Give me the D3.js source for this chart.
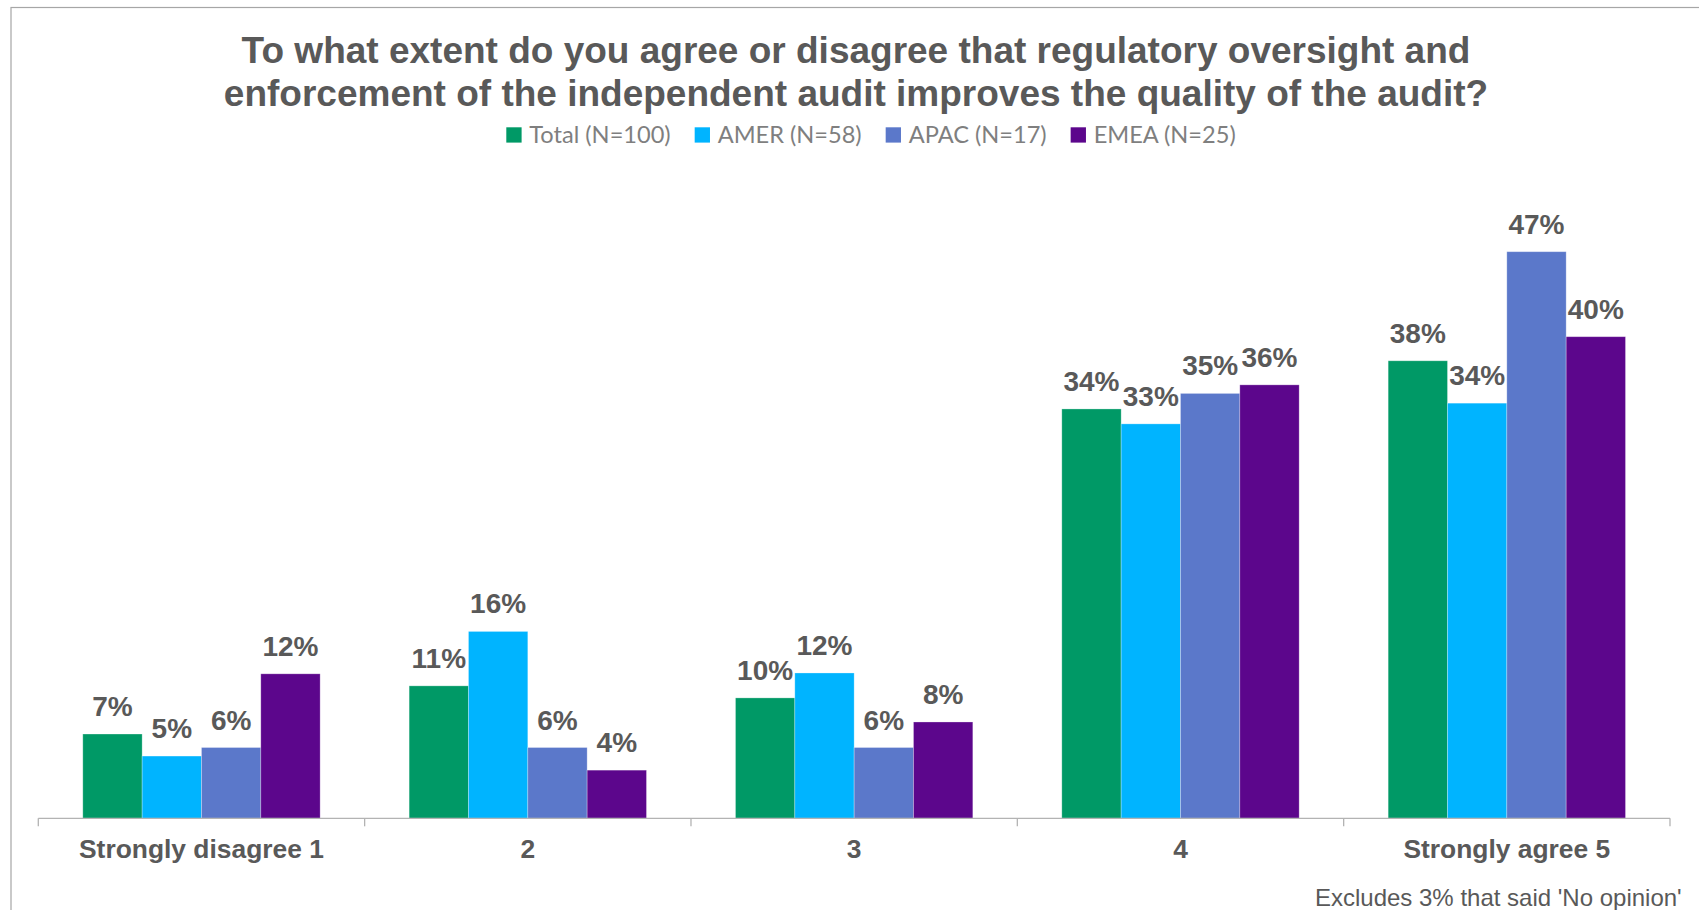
<!DOCTYPE html>
<html>
<head>
<meta charset="utf-8">
<script src="https://cdn.jsdelivr.net/npm/d3@7"></script>
<style>
  html, body { margin: 0; padding: 0; background: #ffffff; }
  svg { display: block; }
</style>
</head>
<body>
<svg id="chart" width="1699" height="910"></svg>
<script>
// ---------- data ----------
const categories = ["Strongly disagree 1", "2", "3", "4", "Strongly agree 5"];
const seriesNames = ["Total (N=100)", "AMER (N=58)", "APAC (N=17)", "EMEA (N=25)"];
const totalValues = [7, 11, 10, 34, 38];
const amerValues  = [5.17, 15.52, 12.07, 32.76, 34.48];
const apacValues  = [5.88, 5.88, 5.88, 35.29, 47.06];
const emeaValues  = [12, 4, 8, 36, 40];
const seriesColors = ["#009966", "#00B4FF", "#5B78CA", "#5C068C"];
const titleLines = [
  "To what extent do you agree or disagree that regulatory oversight and",
  "enforcement of the independent audit improves the quality of the audit?"
];
const footnote = "Excludes 3% that said 'No opinion'";

const seriesValues = [totalValues, amerValues, apacValues, emeaValues];

// ---------- layout ----------
const W = 1699, H = 910;
const axisY = 818.3;
const plotLeft = 38.3, plotRight = 1670;
const svg = d3.select("#chart");
const textGray = "#595959";

// frame
svg.append("rect")
  .attr("x", 11).attr("y", 7.5)
  .attr("width", W + 20).attr("height", H + 20)
  .attr("fill", "#ffffff")
  .attr("stroke", "#a6a6a6").attr("stroke-width", 1.2);

// title
svg.append("g").selectAll("text")
  .data(titleLines)
  .join("text")
  .attr("x", 856)
  .attr("y", (d, i) => 63.3 + i * 42.7)
  .attr("text-anchor", "middle")
  .attr("font-family", "'Liberation Sans', Arial, sans-serif")
  .attr("font-weight", "bold")
  .attr("font-size", 37)
  .attr("fill", textGray)
  .text(d => d);

// scales
const x0 = d3.scaleBand().domain(categories).range([plotLeft, plotRight]).paddingInner(0).paddingOuter(0);
const x1 = d3.scaleBand().domain(seriesNames).range([0, x0.bandwidth()]).paddingInner(0).paddingOuter(0.75);
const y = d3.scaleLinear().domain([0, 50]).range([axisY, axisY - 50 * 12.04]);

// bars
const rows = [];
categories.forEach((c, ci) => {
  seriesNames.forEach((s, si) => {
    rows.push({ cat: c, series: s, si, value: seriesValues[si][ci] });
  });
});

const barsG = svg.append("g");
barsG.selectAll("rect")
  .data(rows)
  .join("rect")
  .attr("x", d => x0(d.cat) + x1(d.series))
  .attr("y", d => y(d.value))
  .attr("width", x1.bandwidth())
  .attr("height", d => y(0) - y(d.value))
  .attr("fill", d => seriesColors[d.si])
  .attr("stroke", "#ffffff")
  .attr("stroke-opacity", 0.35)
  .attr("stroke-width", 0.8);

// value labels
svg.append("g").selectAll("text")
  .data(rows)
  .join("text")
  .attr("x", d => x0(d.cat) + x1(d.series) + x1.bandwidth() / 2)
  .attr("y", d => y(d.value) - 18)
  .attr("text-anchor", "middle")
  .attr("font-family", "'Liberation Sans', Arial, sans-serif")
  .attr("font-weight", "bold")
  .attr("font-size", 28)
  .attr("fill", textGray)
  .text(d => d3.format(".0f")(d.value) + "%");

// x axis
const axisG = svg.append("g");
axisG.append("line")
  .attr("x1", x0.range()[0]).attr("x2", x0.range()[1])
  .attr("y1", axisY).attr("y2", axisY)
  .attr("stroke", "#b3b3b3").attr("stroke-width", 1.3);
const tickPositions = categories.map(c => x0(c)).concat([x0.range()[1]]);
axisG.selectAll("line.tick")
  .data(tickPositions)
  .join("line")
  .attr("class", "tick")
  .attr("x1", d => d).attr("x2", d => d)
  .attr("y1", axisY).attr("y2", axisY + 8)
  .attr("stroke", "#b3b3b3").attr("stroke-width", 1.3);
axisG.selectAll("text")
  .data(categories)
  .join("text")
  .attr("x", d => x0(d) + x0.bandwidth() / 2)
  .attr("y", 858)
  .attr("text-anchor", "middle")
  .attr("font-family", "'Liberation Sans', Arial, sans-serif")
  .attr("font-weight", "bold")
  .attr("font-size", 26.4)
  .attr("fill", textGray)
  .text(d => d);

// legend
const legendG = svg.append("g");
const legFont = 23.6;
const items = legendG.selectAll("g")
  .data(seriesNames)
  .join("g");
items.append("rect")
  .attr("x", 0).attr("y", 127.3)
  .attr("width", 15.3).attr("height", 15.3)
  .attr("fill", (d, i) => seriesColors[i]);
items.append("text")
  .attr("x", 23)
  .attr("y", 142.8)
  .attr("font-family", "Lato, 'Open Sans', sans-serif")
  .attr("font-size", legFont)
  .attr("fill", "#7f7f7f")
  .text(d => d);
// flow layout
let widths = [];
items.each(function() {
  widths.push(23 + d3.select(this).select("text").node().getComputedTextLength());
});
const gap = 24;
const totalW = d3.sum(widths) + gap * (widths.length - 1);
let cx = 871 - totalW / 2;
items.each(function(d, i) {
  d3.select(this).attr("transform", `translate(${cx},0)`);
  cx += widths[i] + gap;
});

// footnote
svg.append("text")
  .attr("x", 1681.7)
  .attr("y", 905.5)
  .attr("text-anchor", "end")
  .attr("font-family", "'Liberation Sans', Arial, sans-serif")
  .attr("font-size", 24)
  .attr("fill", textGray)
  .text(footnote);
</script>
</body>
</html>
